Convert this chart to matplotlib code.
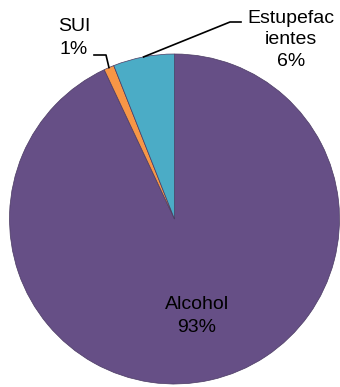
import numpy as np
import matplotlib
matplotlib.use("Agg")
import matplotlib.pyplot as plt

# share of cases by type
categories = ["Alcohol", "SUI", "Estupefacientes"]
label_names = ["Alcohol", "SUI", "Estupefac\nientes"]
values = [93, 1, 6]
colors = ["#664F86", "#F79646", "#4BACC6"]

W, H = 340, 387
cx, cy, r = 174.5, H - 219, 165

plt.rcParams["font.family"] = ["Liberation Sans", "DejaVu Sans"]

fig = plt.figure(figsize=(W / 100, H / 100), dpi=100)
ax = fig.add_axes([0, 0, 1, 1])

wedges, _ = ax.pie(values, colors=colors, startangle=90, counterclock=False,
                   center=(cx, cy), radius=r, frame=True,
                   wedgeprops=dict(edgecolor="#4a3a62", linewidth=0.5))
ax.set_xlim(0, W)
ax.set_ylim(0, H)
ax.set_aspect("equal")
ax.axis("off")

total = sum(values)
pct = [f"{v / total * 100:.0f}%" for v in values]

# label inside the big slice
ax.text(197, H - 316, f"{label_names[0]}\n{pct[0]}", ha="center", va="center",
        fontsize=14, linespacing=1.45)

def rim_point(w):
    a = np.deg2rad((w.theta1 + w.theta2) / 2)
    return cx + r * np.cos(a), cy + r * np.sin(a)

# SUI label with elbow leader
ax.text(74, H - 38, f"{label_names[1]}\n{pct[1]}", ha="center", va="center",
        fontsize=14, linespacing=1.4)
px, py = rim_point(wedges[1])
ax.plot([94, 106, px], [H - 55, H - 55, py], color="black", lw=1.2)

# Estupefacientes label with elbow leader
ax.text(291, H - 40, f"{label_names[2]}\n{pct[2]}", ha="center", va="center",
        fontsize=14, linespacing=1.35)
px, py = rim_point(wedges[2])
ax.plot([241, 230, px], [H - 22, H - 22, py], color="black", lw=1.2)

fig.savefig("out.png", dpi=100)
